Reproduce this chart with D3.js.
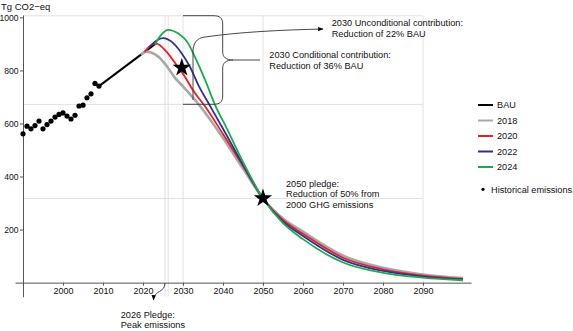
<!DOCTYPE html>
<html>
<head>
	<meta charset="utf-8" />
	<script src="https://d3js.org/d3.v7.min.js"></script>
	<style>
		body { margin: 0; background: #fff; }
		text { font-family: "Liberation Sans", Arial, sans-serif; }
	</style>
</head>
<body>
	<div id="chart"></div>
	<script>
		// historical emissions (dots)
		var histYears = [1990, 1991, 1992, 1993, 1994, 1995, 1996, 1997, 1998, 1999, 2000, 2001, 2002, 2003, 2004, 2005, 2006, 2007, 2008, 2009];
		var histValues = [561, 590, 580, 592, 609, 580, 596, 609, 624, 634, 640, 628, 617, 631, 666, 669, 697, 712, 751, 741];

		// BAU and pledge scenarios
		var bauYears = [2009, 2023.5];
		var bauValues = [741, 905];

		var s2018Years = [2019.5, 2020.8, 2022, 2024, 2026, 2028, 2030, 2034.3, 2040, 2045, 2050, 2055, 2060, 2070, 2080, 2090, 2100];
		var s2018Values = [859, 871, 868, 850, 815, 772, 740, 665, 545, 430, 317, 242, 192, 102, 56, 31, 17];

		var s2020Years = [2020.4, 2021.8, 2023.3, 2025.8, 2028.3, 2030.4, 2032.5, 2035.5, 2040, 2045, 2050, 2055, 2060, 2070, 2080, 2090, 2100];
		var s2020Values = [869, 893, 901, 872, 822, 778, 725, 665, 560, 440, 317, 236, 184, 94, 50, 26, 14];

		var s2022Years = [2021.7, 2023.3, 2025, 2027.5, 2029.6, 2031.7, 2034, 2036.7, 2040, 2045, 2050, 2055, 2060, 2070, 2080, 2090, 2100];
		var s2022Values = [889, 912, 922, 904, 866, 815, 740, 668, 580, 445, 317, 230, 176, 86, 44, 23, 12];

		var s2024Years = [2023, 2024.6, 2026.3, 2028.7, 2031.3, 2033, 2035.5, 2038, 2041, 2045, 2050, 2055, 2060, 2070, 2080, 2090, 2100];
		var s2024Values = [899, 935, 953, 940, 902, 850, 765, 670, 580, 455, 317, 224, 164, 76, 37, 19, 9];

		var seriesNames = ["BAU", "2018", "2020", "2022", "2024"];
		var seriesColors = ["#000000", "#a8a8a8", "#ee1c25", "#2e3192", "#1aab4b"];

		var stars = [[2029.7, 810], [2050, 318]];

		var xTicks = [2000, 2010, 2020, 2030, 2040, 2050, 2060, 2070, 2080, 2090];
		var yTicks = [200, 400, 600, 800, 1000];
		var gridX = [2025.5, 2026.3, 2030, 2050, 2090];
		var gridY = [1006, 672, 317];

		var width = 573, height = 331;

		var x = d3.scaleLinear().domain([1988, 2102]).range([15, 471]);
		var y = d3.scaleLinear().domain([-53, 1009]).range([296.7, 15]);

		var svg = d3.select("#chart").append("svg")
			.attr("width", width)
			.attr("height", height);

		// grid
		svg.selectAll(".gx").data(gridX).enter().append("line")
			.attr("x1", function (d) { return x(d); })
			.attr("x2", function (d) { return x(d); })
			.attr("y1", y(-53)).attr("y2", y(1006))
			.attr("stroke", "#e2e2e2").attr("stroke-width", 1);
		svg.selectAll(".gy").data(gridY).enter().append("line")
			.attr("x1", x(1990)).attr("x2", x(2090))
			.attr("y1", function (d) { return y(d); })
			.attr("y2", function (d) { return y(d); })
			.attr("stroke", "#e2e2e2").attr("stroke-width", 1);

		// axes
		var xAxis = svg.append("g")
			.attr("transform", "translate(0," + y(0) + ")")
			.call(d3.axisBottom(x).tickValues(xTicks).tickFormat(d3.format("d")).tickSize(3).tickSizeOuter(0).tickPadding(1.5));
		var yAxis = svg.append("g")
			.attr("transform", "translate(" + x(1990) + ",0)")
			.call(d3.axisLeft(y).tickValues(yTicks).tickFormat(d3.format("d")).tickSize(3).tickSizeOuter(0).tickPadding(1.5));
		[xAxis, yAxis].forEach(function (g) {
			g.select(".domain").attr("stroke", "#555");
			g.selectAll(".tick line").attr("stroke", "#555");
			g.selectAll(".tick text").attr("font-size", "9px").attr("fill", "#111")
				.attr("font-family", "'Liberation Sans', Arial, sans-serif");
		});
		yAxis.selectAll(".tick text").attr("font-size", "8.6px");

		svg.append("text").attr("x", 1).attr("y", 10)
			.attr("font-size", "9.5px").attr("fill", "#111")
			.text("Tg CO2\u2212eq");

		// lines
		var line = d3.line()
			.x(function (d) { return x(d[0]); })
			.y(function (d) { return y(d[1]); })
			.curve(d3.curveMonotoneX);

		function pairs(a, b) { return a.map(function (v, i) { return [v, b[i]]; }); }

		var lineData = [
			pairs(bauYears, bauValues),
			pairs(s2018Years, s2018Values),
			pairs(s2020Years, s2020Values),
			pairs(s2022Years, s2022Values),
			pairs(s2024Years, s2024Values)
		];
		var widths = [2, 2.6, 1.8, 1.8, 1.8];

		lineData.forEach(function (d, i) {
			svg.append("path")
				.datum(d)
				.attr("d", line)
				.attr("fill", "none")
				.attr("stroke", seriesColors[i])
				.attr("stroke-width", widths[i]);
		});

		// historical dots
		svg.selectAll(".dot").data(pairs(histYears, histValues)).enter().append("circle")
			.attr("cx", function (d) { return x(d[0]); })
			.attr("cy", function (d) { return y(d[1]); })
			.attr("r", 2.6)
			.attr("fill", "#000");

		// stars
		svg.selectAll(".star").data(stars).enter().append("path")
			.attr("d", d3.symbol(d3.symbolStar, 105))
			.attr("transform", function (d) { return "translate(" + x(d[0]) + "," + y(d[1]) + ")"; })
			.attr("fill", "#000");

		// annotations: braces and arrows
		svg.append("defs").append("marker")
			.attr("id", "arr").attr("viewBox", "0 0 10 10")
			.attr("refX", 9).attr("refY", 5)
			.attr("markerWidth", 6).attr("markerHeight", 6)
			.attr("orient", "auto")
			.append("path").attr("d", "M0,1 L10,5 L0,9 Z").attr("fill", "#000");

		var ann = svg.append("g").attr("fill", "none").attr("stroke", "#333").attr("stroke-width", 0.9);
		ann.append("path").attr("d",
			"M183,15.7 L213,15.7 C220,15.7 222.7,18 222.7,24 L222.7,52 C222.7,57 226,60 233,60 L260,60" +
			"M233,60 C226,60 222.7,63 222.7,68 L222.7,96 C222.7,102 220,104.3 213,104.3 L183,104.3");
		ann.append("path").attr("d", "M193,100 L193,52 C193,44 196,38 205,37 C240,32 280,30 323,29")
			.attr("marker-end", "url(#arr)");
		ann.append("path").attr("d", "M165,283 C165,293 154,290 153.5,300")
			.attr("marker-end", "url(#arr)");

		var notes = [
			{ x: 331.7, y: 26.3, lines: ["2030 Unconditional contribution:", "Reduction of 22% BAU"] },
			{ x: 269.3, y: 58.3, lines: ["2030 Conditional contribution:", "Reduction of 36% BAU"] },
			{ x: 286, y: 186.5, lines: ["2050 pledge:", "Reduction of 50% from", "2000 GHG emissions"] },
			{ x: 120.7, y: 317.5, lines: ["2026 Pledge:", "Peak emissions"] }
		];
		notes.forEach(function (n) {
			var t = svg.append("text").attr("x", n.x).attr("y", n.y)
				.attr("font-size", "9.2px").attr("fill", "#111");
			n.lines.forEach(function (l, i) {
				t.append("tspan").attr("x", n.x).attr("dy", i === 0 ? 0 : 10.7).text(l);
			});
		});

		// legend
		var legend = svg.selectAll(".legend").data(seriesNames).enter().append("g")
			.attr("transform", function (d, i) { return "translate(478," + (105 + i * 15.5) + ")"; });
		legend.append("line")
			.attr("x1", 0).attr("x2", 15)
			.attr("stroke", function (d, i) { return seriesColors[i]; })
			.attr("stroke-width", 2);
		legend.append("text")
			.attr("x", 19).attr("dy", "0.35em")
			.attr("font-size", "9.2px").attr("fill", "#111")
			.text(function (d) { return d; });

		svg.append("circle").attr("cx", 483).attr("cy", 189.3).attr("r", 1.6).attr("fill", "#000");
		svg.append("text").attr("x", 491).attr("y", 189.3).attr("dy", "0.35em")
			.attr("font-size", "9.2px").attr("fill", "#111")
			.text("Historical emissions");
	</script>
</body>
</html>
